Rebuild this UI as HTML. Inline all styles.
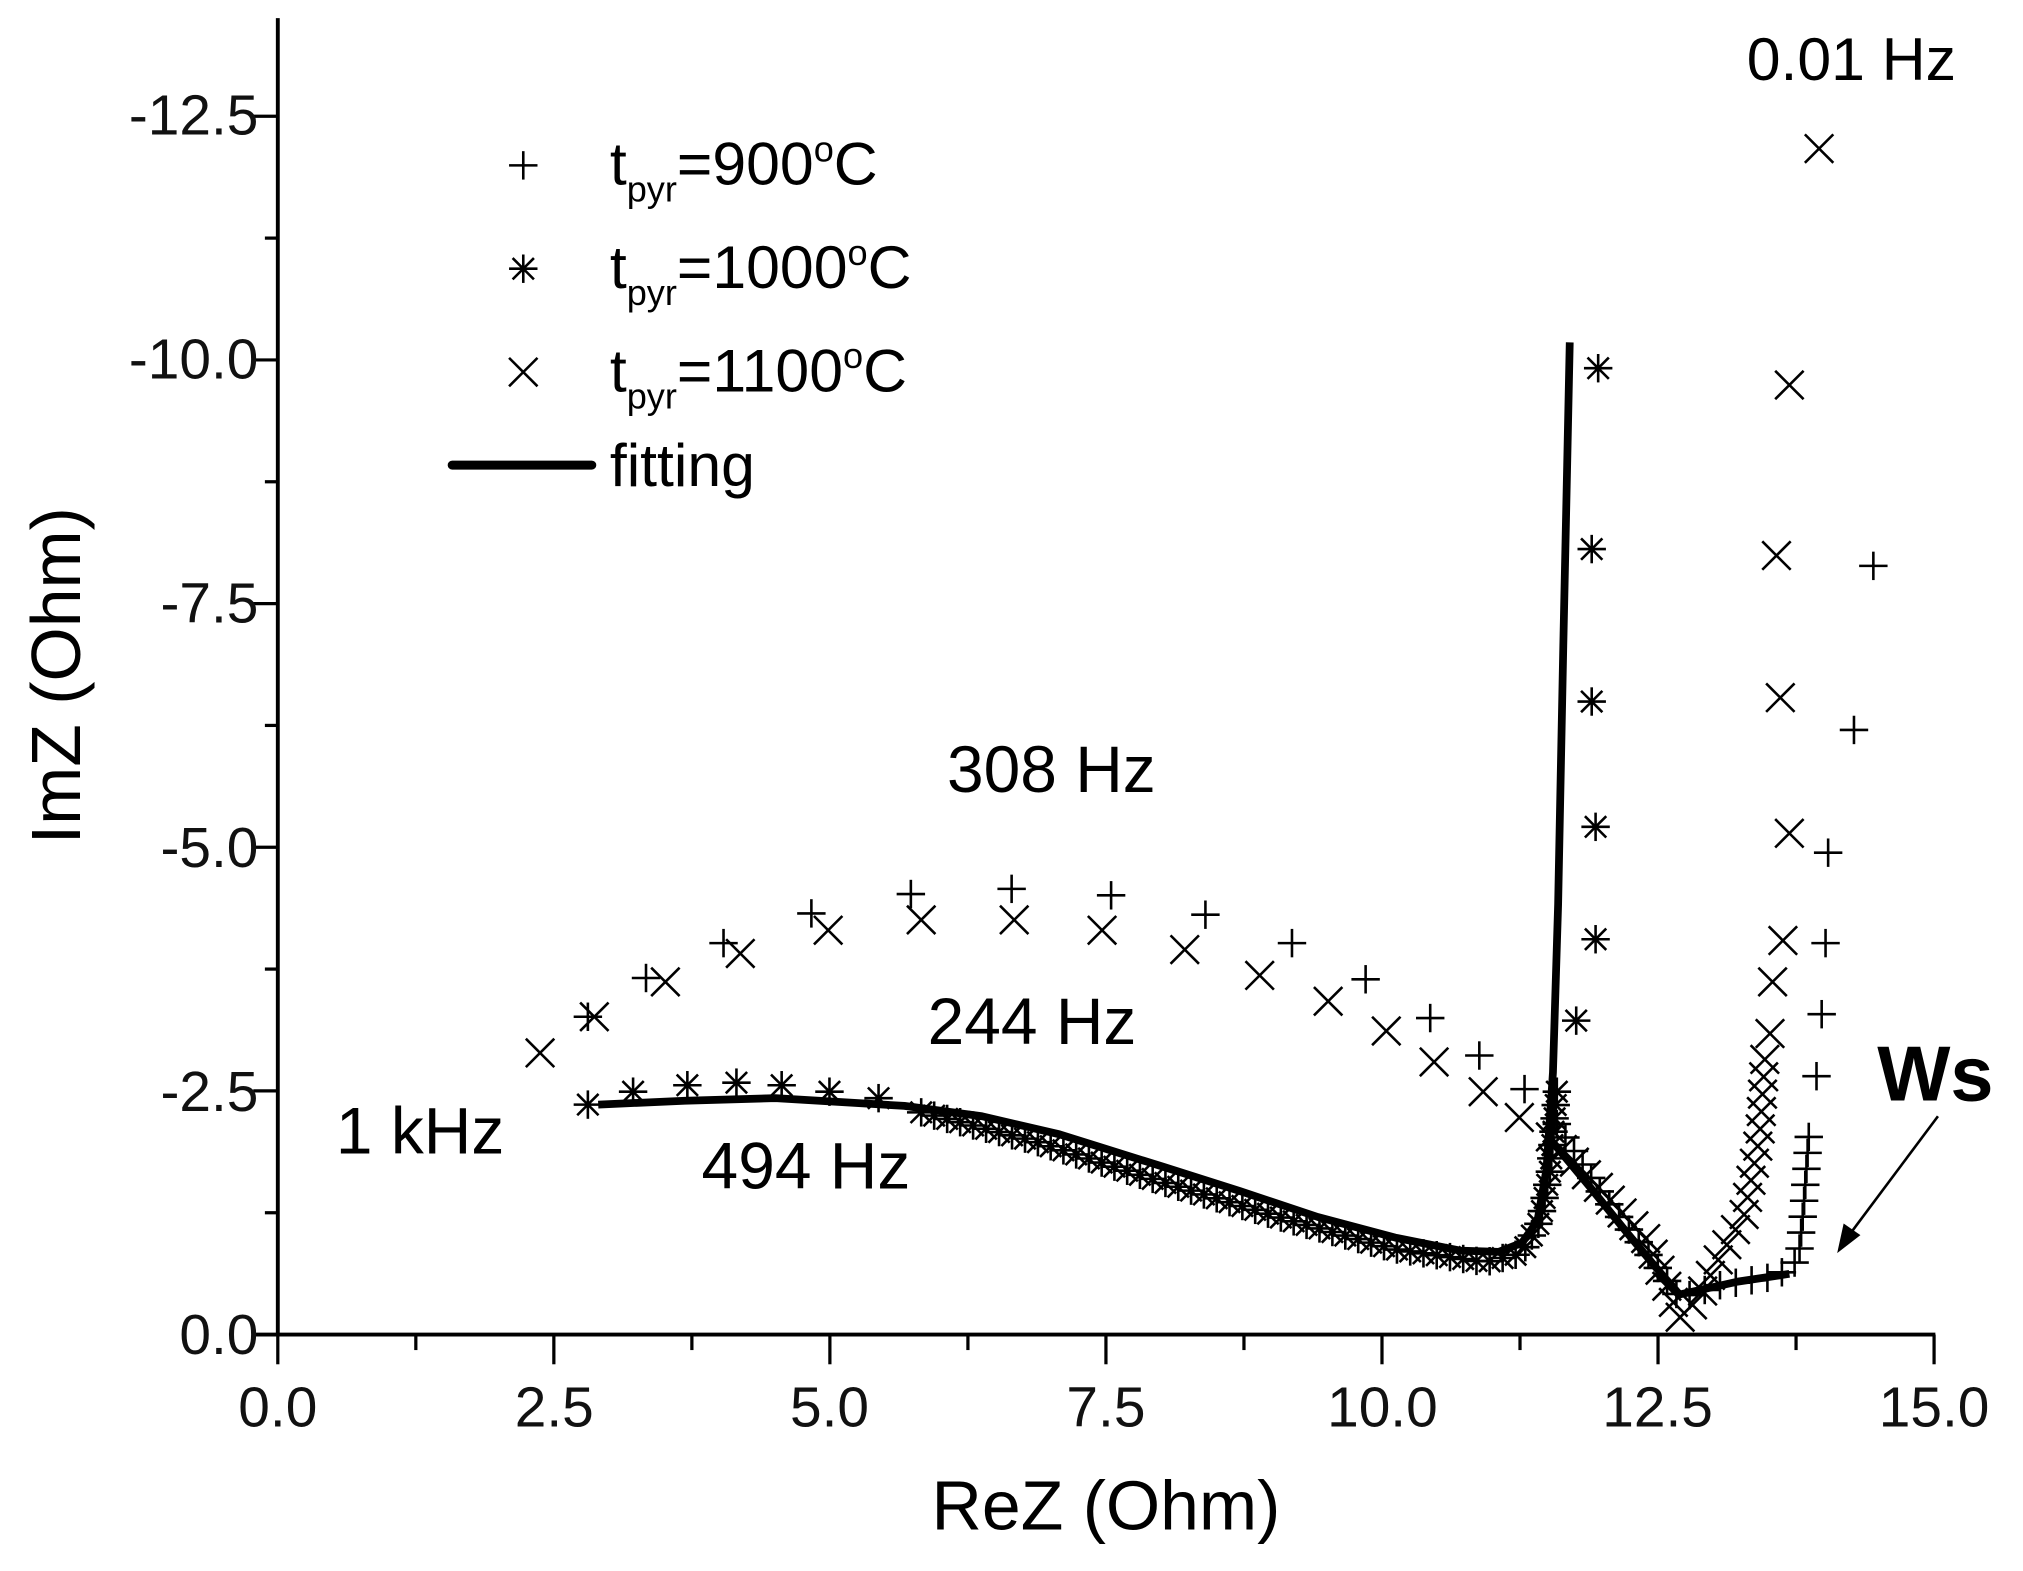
<!DOCTYPE html>
<html><head><meta charset="utf-8"><style>
html,body{margin:0;padding:0;background:#fff;}
svg{display:block;font-family:"Liberation Sans",Arial,sans-serif;}
</style></head><body>
<svg id="s" width="2023" height="1571" viewBox="0 0 1565.8 1216" xmlns="http://www.w3.org/2000/svg">
<g stroke="#000" stroke-width="3" fill="none">
<line x1="215" y1="14" x2="215" y2="1034"/>
<line x1="198" y1="1033" x2="1498" y2="1033"/>
</g>
<g id="ticks" stroke="#000" stroke-width="2.5"></g>
<g font-size="44" text-anchor="end" fill="#111">
<text x="200" y="104">-12.5</text>
<text x="200" y="293">-10.0</text>
<text x="200" y="482">-7.5</text>
<text x="200" y="671">-5.0</text>
<text x="200" y="860">-2.5</text>
<text x="200" y="1048">0.0</text>
</g>
<g font-size="44" text-anchor="middle" fill="#111">
<text x="215" y="1104">0.0</text>
<text x="429" y="1104">2.5</text>
<text x="642" y="1104">5.0</text>
<text x="856" y="1104">7.5</text>
<text x="1070" y="1104">10.0</text>
<text x="1283" y="1104">12.5</text>
<text x="1497" y="1104">15.0</text>
</g>
<text x="856" y="1184" font-size="54" text-anchor="middle">ReZ (Ohm)</text>
<text transform="translate(62,523) rotate(-90)" font-size="54" text-anchor="middle">ImZ (Ohm)</text>
<g font-size="47">
<text x="472" y="143">t<tspan font-size="28" dy="13">pyr</tspan><tspan dy="-13">=900</tspan><tspan font-size="28" dy="-18">o</tspan><tspan dy="18">C</tspan></text>
<text x="472" y="223">t<tspan font-size="28" dy="13">pyr</tspan><tspan dy="-13">=1000</tspan><tspan font-size="28" dy="-18">o</tspan><tspan dy="18">C</tspan></text>
<text x="472" y="303">t<tspan font-size="28" dy="13">pyr</tspan><tspan dy="-13">=1100</tspan><tspan font-size="28" dy="-18">o</tspan><tspan dy="18">C</tspan></text>
<text x="472" y="376">fitting</text>
<text x="1352" y="62">0.01 Hz</text>
<text x="733" y="613" font-size="51">308 Hz</text>
<text x="718" y="808" font-size="51">244 Hz</text>
<text x="260" y="893" font-size="51">1 kHz</text>
<text x="543" y="920" font-size="51">494 Hz</text>
<text x="1453" y="852" font-weight="bold" font-size="60">Ws</text>
</g>
<line x1="350" y1="360" x2="458" y2="360" stroke="#000" stroke-width="7" stroke-linecap="round"/>
<line x1="1500" y1="864" x2="1432" y2="955" stroke="#000" stroke-width="2"/>
<polygon points="1422,970 1427,947 1440,956" fill="#000"/>
<g id="m" stroke="#000" stroke-width="2" fill="none"></g>
<g stroke="#000" stroke-width="6" fill="none" stroke-linejoin="round">
<polyline points="463,855 530,852 600,850 700,856 760,864 820,878 900,903 960,922 1020,942 1080,958 1130,968 1160,969 1178,962 1190,945 1197,905 1202,830 1206,700 1210,500 1213,360 1215,265"/>
<polyline points="1200,882 1230,918 1260,955 1285,985 1300,1002 1318,998 1345,992 1385,986"/>
</g>
</svg>
<script>
const NS="http://www.w3.org/2000/svg";
const m=document.getElementById('m'),tk=document.getElementById('ticks');
function L(g,x1,y1,x2,y2,w){const l=document.createElementNS(NS,'line');l.setAttribute('x1',x1);l.setAttribute('y1',y1);l.setAttribute('x2',x2);l.setAttribute('y2',y2);if(w)l.setAttribute('stroke-width',w);g.appendChild(l);}
for(let i=0;i<=12;i++){const x=215+i*(1282/12);L(tk,x,1033,x,i%2==0?1056:1045);}
for(let i=0;i<=11;i++){const y=1033-i*(943/12.5*1.25);L(tk,215,y,i%2==0?196:205,y);}
const S=11;
function plus(x,y){L(m,x-S,y,x+S,y);L(m,x,y-S,x,y+S);}
function cross(x,y){L(m,x-S,y-S,x+S,y+S);L(m,x-S,y+S,x+S,y-S);}
function star(x,y){plus(x,y);const d=S*0.75;L(m,x-d,y-d,x+d,y+d);L(m,x-d,y+d,x+d,y-d);}
plus(405,128);star(405,208);cross(405,288);
function along(pts,n,f,off){let seg=[],tot=0;for(let i=1;i<pts.length;i++){const d=Math.hypot(pts[i][0]-pts[i-1][0],pts[i][1]-pts[i-1][1]);seg.push(d);tot+=d;}
for(let k=0;k<n;k++){let t=tot*k/(n-1),i=0;while(i<seg.length-1&&t>seg[i]){t-=seg[i];i++;}const r=seg[i]?t/seg[i]:0;f(pts[i][0]+(pts[i+1][0]-pts[i][0])*r,pts[i][1]+(pts[i+1][1]-pts[i][1])*r+(off||0));}}
[[418,815],[460,787],[515,760],[573,738],[641,720],[713,712],[785,712],[853,720],[917,735],[975,755],[1028,775],[1073,798],[1110,822],[1148,845],[1176,865],[1385,298],[1408,115],[1375,430],[1378,540],[1385,645],[1380,728],[1372,760],[1370,800]].forEach(p=>cross(p[0],p[1]));
along([[1200,880],[1240,922],[1275,960],[1292,1000],[1300,1020],[1315,1005],[1330,975],[1350,940],[1362,880],[1366,820]],30,cross);
[[455,787],[500,757],[560,730],[628,707],[705,692],[783,688],[860,693],[933,708],[1000,730],[1057,758],[1107,788],[1145,817],[1180,843],[1450,438],[1435,565],[1415,660],[1413,730],[1410,785],[1406,833]].forEach(p=>plus(p[0],p[1]));
along([[1205,870],[1240,925],[1275,970],[1300,1005],[1330,995],[1375,988],[1392,975],[1396,935],[1400,880]],30,plus);
[[455,855],[490,845],[532,840],[570,838],[605,840],[642,845],[680,850],[1237,285],[1232,425],[1232,543],[1235,640],[1235,727],[1220,790]].forEach(p=>star(p[0],p[1]));
along([[713,856],[800,878],[900,910],[1000,940],[1080,962],[1150,972],[1178,965],[1192,940],[1200,900],[1205,840]],60,star,5);
</script>
</body></html>
